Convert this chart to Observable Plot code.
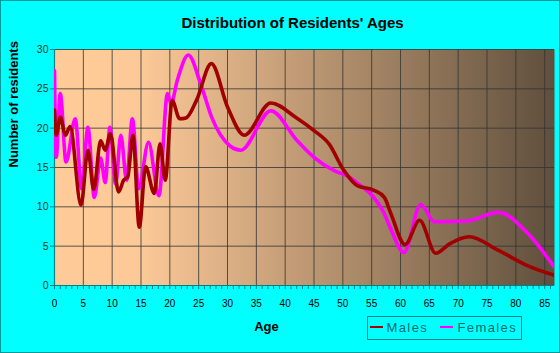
<!DOCTYPE html>
<html>
<head>
<meta charset="utf-8">
<script src="https://cdn.jsdelivr.net/npm/d3@7"></script>
<script src="https://cdn.jsdelivr.net/npm/@observablehq/plot@0.6"></script>
<style>
  html, body { margin: 0; padding: 0; background: #00FFFF; }
  #chart { width: 560px; height: 353px; }
</style>
</head>
<body>
<div id="chart"></div>
<script>
// ---- Data ----
const maleAges = [0, 0.3, 1, 1.9, 2.7, 4.6, 5.8, 6.8, 8, 8.8, 9.7, 11.1, 12, 12.7, 13.6, 14.7, 15.8, 17.3, 18.3, 19.2, 20.4, 21.7, 22.8, 24.6, 27.2, 30, 32.9, 37.5, 41.8, 45, 47.6, 50.2, 52.5, 55.4, 57.2, 58.3, 60.8, 63.3, 66.1, 68.5, 71.9, 76.9, 82.1, 86.7];
const maleValues = [22.3, 19.1, 21.4, 19.1, 20.2, 10.2, 17.2, 12.2, 18.4, 17.2, 19.3, 11.9, 13.4, 13.8, 19.1, 7.4, 15.1, 11.7, 18.0, 13.4, 23.5, 21.2, 21.3, 23.5, 28.2, 22.7, 19.1, 23.2, 21.4, 19.7, 18.0, 14.6, 12.7, 12.1, 11.2, 9.2, 5.2, 8.3, 4.1, 5.3, 6.2, 4.5, 2.5, 1.3];

const femaleAges = [0, 0.3, 1, 2, 3.6, 4.7, 5.8, 6.9, 8, 8.8, 9.6, 10.6, 11.5, 12.5, 13.5, 14.6, 16.3, 18.1, 19.6, 20.2, 21.3, 23.2, 25.4, 27.3, 30.5, 32.3, 37.5, 42.1, 45, 48.5, 51.1, 53.1, 55, 57, 58.3, 60.6, 63.5, 65.9, 71.6, 76.9, 82.1, 86.7];
const femaleValues = [27.3, 16.3, 24.4, 15.7, 21.2, 12.3, 20.1, 11.2, 16.2, 13.1, 20.1, 12.9, 19.1, 13.4, 21.2, 12.3, 18.2, 11.4, 24.4, 23.1, 26.1, 29.3, 25.5, 21.3, 17.7, 17.2, 22.2, 18.4, 16.3, 14.6, 13.8, 12.7, 11.5, 9.4, 7.2, 4.2, 10.3, 8.1, 8.2, 9.3, 6.6, 2.3];

const xTicks = [0, 5, 10, 15, 20, 25, 30, 35, 40, 45, 50, 55, 60, 65, 70, 75, 80, 85];
const yTicks = [0, 5, 10, 15, 20, 25, 30];
const seriesNames = ["Males", "Females"];
const seriesColors = ["#A00000", "#FF00FF"];

const males = maleAges.map((a, i) => ({age: a, value: maleValues[i]}));
const females = femaleAges.map((a, i) => ({age: a, value: femaleValues[i]}));

const FONT = "'Liberation Sans', Arial, Helvetica, sans-serif";
const TEAL = "#008080";

function bgDefs() {
  const defs = d3.create("svg:defs");
  const g = defs.append("linearGradient").attr("id", "bgGrad")
    .attr("x1", 0).attr("x2", 1).attr("y1", 0).attr("y2", 0);
  g.append("stop").attr("offset", 0).attr("stop-color", "#FFCC99");
  g.append("stop").attr("offset", 0.18).attr("stop-color", "#FBC897");
  g.append("stop").attr("offset", 1).attr("stop-color", "#5F4F3D");
  return defs.node();
}

const chart = Plot.plot({
  width: 560,
  height: 353,
  marginTop: 49,
  marginLeft: 54,
  marginRight: 6,
  marginBottom: 68,
  style: {background: "#00FFFF", fontFamily: FONT, overflow: "visible"},
  x: {domain: [0, 86.7], label: null},
  y: {domain: [0, 30], label: null},
  marks: [
    bgDefs,
    Plot.frame({fill: "url(#bgGrad)", stroke: null}),
    Plot.gridX(xTicks, {stroke: "#333", strokeOpacity: 0.8, strokeWidth: 1}),
    Plot.gridY(yTicks, {stroke: "#333", strokeOpacity: 0.8, strokeWidth: 1}),
    Plot.axisX(d3.range(0, 87), {tickSize: 4, text: null, stroke: TEAL, strokeOpacity: 1}),
    Plot.axisX(xTicks, {tickSize: 0, tickPadding: 14, fontSize: 10, fill: "#000", letterSpacing: 0.3}),
    Plot.axisY(yTicks, {tickSize: 4, tickPadding: 2, fontSize: 10.5, fill: "#0a3a2a", stroke: TEAL, strokeOpacity: 1}),
    Plot.ruleY([0], {stroke: TEAL, strokeWidth: 1.2}),
    Plot.ruleX([0], {stroke: TEAL, strokeWidth: 1.2}),
    Plot.line(females, {x: "age", y: "value", stroke: seriesColors[1], strokeWidth: 3.6, curve: "monotone-x", clip: true}),
    Plot.line(males, {x: "age", y: "value", stroke: seriesColors[0], strokeWidth: 3.6, curve: "monotone-x", clip: true}),
    Plot.text(["Distribution of Residents' Ages"], {frameAnchor: "top", dx: -12, dy: -26, lineAnchor: "middle", fontSize: 15, fontWeight: "bold", letterSpacing: 0.7, fill: "#000"}),
    Plot.text(["Number of residents"], {frameAnchor: "left", dx: -41, rotate: -90, lineAnchor: "middle", fontSize: 13, fontWeight: "bold", letterSpacing: 1.2, fill: "#000"}),
    Plot.text(["Age"], {frameAnchor: "bottom", dx: -38, dy: 41.5, lineAnchor: "middle", fontSize: 13, fontWeight: "bold", letterSpacing: 1.2, fill: "#000"})
  ]
});

document.getElementById("chart").appendChild(chart);

// legend + outer border
const svg = d3.select(chart);
const lg = svg.append("g").attr("font-family", FONT).attr("text-anchor", "start");
lg.append("rect").attr("x", 367.5).attr("y", 316.5).attr("width", 154).attr("height", 23)
  .attr("fill", "none").attr("stroke", TEAL).attr("stroke-width", 1);
const items = [{x: 370, tx: 386.5}, {x: 440, tx: 457.5}];
items.forEach((it, i) => {
  lg.append("line").attr("x1", it.x).attr("x2", it.x + 13).attr("y1", 327).attr("y2", 327)
    .attr("stroke", seriesColors[i]).attr("stroke-width", 2);
  lg.append("text").attr("x", it.tx).attr("y", 332).attr("font-size", 13).attr("letter-spacing", 1.4)
    .attr("text-anchor", "start").attr("fill", "#006B6B").text(seriesNames[i]);
});
svg.append("rect").attr("x", 0.5).attr("y", 0.5).attr("width", 559).attr("height", 352)
  .attr("fill", "none").attr("stroke", "#009999").attr("stroke-width", 1);
</script>
</body>
</html>
